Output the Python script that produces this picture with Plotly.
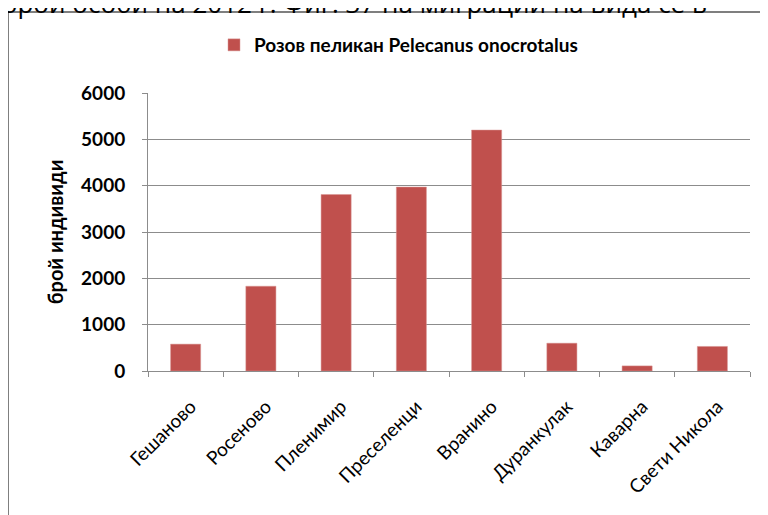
import plotly.graph_objects as go

# data
places = ["Гешаново", "Росеново", "Пленимир", "Преселенци", "Вранино",
          "Дуранкулак", "Каварна", "Свети Никола"]
counts = [580, 1830, 3810, 3970, 5200, 600, 110, 530]
series_name = "Розов пеликан Pelecanus onocrotalus"
y_ticks = [0, 1000, 2000, 3000, 4000, 5000, 6000]

BAR = "#C0504D"
GRID = "#8C8C8C"
FONT = "Lato, 'Open Sans', sans-serif"

# the page body adds an 8px offset, so the figure is a bit smaller
OFF = 8
W, H = 768 - OFF, 515 - OFF
# plot area in page pixels: x 148..750, y 93..371
L, T = 148 - OFF, 93 - OFF
R = W - (750 - OFF)
B = H - (371 - OFF)
pw, ph = W - L - R, H - T - B


def px_x(x):
    return (x - OFF - L) / pw


def px_y(y):
    return (H - B - (y - OFF)) / ph


fig = go.Figure(
    go.Bar(
        x=places,
        y=counts,
        name=series_name,
        marker=dict(color=BAR, line=dict(color="#D99694", width=0.5)),
        showlegend=True,
    )
)

fig.update_layout(
    width=W,
    height=H,
    margin=dict(l=L, r=R, t=T, b=B, autoexpand=False),
    paper_bgcolor="white",
    plot_bgcolor="white",
    bargap=0.6,
    font=dict(family=FONT, color="black", size=17),
    legend=dict(
        orientation="h",
        xref="container",
        yref="container",
        x=(214 - OFF) / W,
        y=1 - (45 - OFF) / H,
        xanchor="left",
        yanchor="middle",
        font=dict(size=19, family=FONT, weight="bold"),
        itemwidth=30,
    ),
    xaxis=dict(
        automargin=False,
        showline=True,
        linecolor=GRID,
        linewidth=1,
        ticks="outside",
        tickson="boundaries",
        ticklen=5,
        tickcolor=GRID,
        tickangle=-45,
        ticklabelstandoff=16,
        ticklabelshift=5,
        tickfont=dict(size=19),
        showgrid=False,
    ),
    yaxis=dict(
        automargin=False,
        range=[0, 6000],
        tickvals=y_ticks,
        showline=True,
        linecolor=GRID,
        ticks="outside",
        ticklen=5,
        tickcolor=GRID,
        ticklabelstandoff=13,
        tickfont=dict(size=19, weight="bold"),
        showgrid=True,
        gridcolor=GRID,
        gridwidth=1,
        zeroline=False,
        title=dict(text="брой индивиди", font=dict(size=20, weight="bold"), standoff=12),
    ),
    shapes=[
        dict(
            type="rect", xref="paper", yref="paper",
            x0=px_x(8), x1=px_x(790), y0=px_y(540), y1=px_y(12),
            line=dict(color="#7F7F7F", width=2),
            fillcolor="rgba(0,0,0,0)",
            layer="below",
        )
    ],
    annotations=[
        dict(
            text="брой особи на 2012 г. Фиг. 37 на миграции на вида се в",
            xref="paper", yref="paper",
            x=px_x(0), y=px_y(3),
            xanchor="left", yanchor="middle",
            showarrow=False,
            font=dict(size=26, family="'Open Sans', sans-serif", color="black"),
        )
    ],
)

fig.write_html("out.html")
